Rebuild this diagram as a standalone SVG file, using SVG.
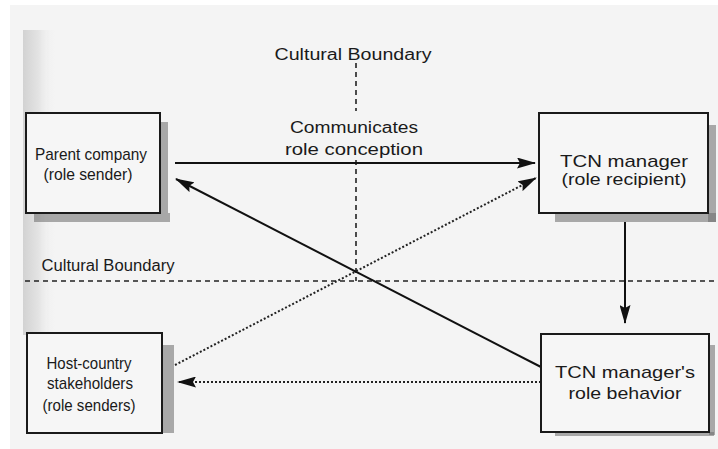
<svg xmlns="http://www.w3.org/2000/svg" width="718" height="449" viewBox="0 0 718 449">
  <style>
    text { font-family: "Liberation Sans", "DejaVu Sans", sans-serif; fill: #1a1a1a; text-anchor: middle; }
    .lbl { font-size: 16px; }
    .node { font-size: 17px; }
    .box { fill: #f6f6f6; stroke: #1a1a1a; stroke-width: 2; }
    .shadow { fill: #6a6a6a; opacity: 0.55; }
    .solid { stroke: #111; stroke-width: 2; fill: none; }
    .dotted { stroke: #222; stroke-width: 2; stroke-dasharray: 2 2; fill: none; }
    .boundary { stroke: #222; stroke-width: 1.6; stroke-dasharray: 5 4; fill: none; }
  </style>
  <defs>
    <linearGradient id="binding" x1="0" y1="0" x2="1" y2="0">
      <stop offset="0" stop-color="#d2d2d2"/>
      <stop offset="0.5" stop-color="#e4e4e4"/>
      <stop offset="1" stop-color="#f4f4f4" stop-opacity="0"/>
    </linearGradient>
    <linearGradient id="bindingFade" x1="0" y1="0" x2="0" y2="1">
      <stop offset="0" stop-color="#fff" stop-opacity="1"/>
      <stop offset="0.8" stop-color="#fff" stop-opacity="1"/>
      <stop offset="1" stop-color="#fff" stop-opacity="0"/>
    </linearGradient>
    <mask id="fadeMask">
      <rect x="0" y="0" width="718" height="449" fill="url(#bindingFade)"/>
    </mask>
    <marker id="arrow" markerWidth="19" markerHeight="11" refX="18" refY="5.5" orient="auto" markerUnits="userSpaceOnUse">
      <path d="M0,0 L19,5.5 L0,11 L3,5.5 Z" fill="#111"/>
    </marker>
  </defs>

  <!-- page -->
  <rect x="0" y="0" width="718" height="449" fill="#ffffff"/>
  <rect x="10" y="5" width="708" height="444" fill="#f4f4f4"/>
  <rect x="23" y="30" width="32" height="305" fill="url(#binding)" mask="url(#fadeMask)"/>

  <!-- boundaries -->
  <g id="boundaries">
    <text class="lbl" x="353" y="60" textLength="157" lengthAdjust="spacingAndGlyphs">Cultural Boundary</text>
    <path class="boundary" d="M356,63 V111 M356,160 V281"/>
    <text class="lbl" x="108" y="271" textLength="133" lengthAdjust="spacingAndGlyphs">Cultural Boundary</text>
    <path class="boundary" d="M25,281 H718"/>
  </g>

  <!-- connectors -->
  <g id="connectors">
    <path class="solid" d="M175,163 H535" marker-end="url(#arrow)"/>
    <text class="lbl" x="354" y="133" textLength="128" lengthAdjust="spacingAndGlyphs">Communicates</text>
    <text class="lbl" x="354" y="155" textLength="138" lengthAdjust="spacingAndGlyphs">role conception</text>
    <path class="solid" d="M541,367 L176,179" marker-end="url(#arrow)"/>
    <path class="dotted" d="M175,365 L536,178" marker-end="url(#arrow)"/>
    <path class="dotted" d="M541,382 H178" marker-end="url(#arrow)"/>
    <path class="solid" d="M625,222 V323" marker-end="url(#arrow)"/>
  </g>

  <!-- nodes -->
  <g id="parent-company">
    <rect class="shadow" x="34" y="213" width="136" height="9"/>
    <rect class="shadow" x="160" y="122" width="8" height="91" opacity="0.25"/>
    <rect class="box" x="26" y="113" width="134" height="100"/>
    <text class="node" x="91" y="160" textLength="112" lengthAdjust="spacingAndGlyphs">Parent company</text>
    <text class="node" x="88" y="180" textLength="89" lengthAdjust="spacingAndGlyphs">(role sender)</text>
  </g>

  <g id="tcn-manager">
    <rect class="shadow" x="555" y="213" width="161" height="9" opacity="0.35"/>
    <rect class="shadow" x="708" y="125" width="8" height="97" opacity="0.45"/>
    <rect class="box" x="539" y="113" width="169" height="100"/>
    <text class="node" x="624" y="167" textLength="128" lengthAdjust="spacingAndGlyphs">TCN manager</text>
    <text class="node" x="624" y="185" textLength="125" lengthAdjust="spacingAndGlyphs">(role recipient)</text>
  </g>

  <g id="host-country">
    <rect class="shadow" x="162" y="345" width="12" height="88" opacity="0.2"/>
    <rect class="box" x="27" y="333" width="135" height="100"/>
    <text class="node" x="89" y="369" textLength="85" lengthAdjust="spacingAndGlyphs">Host-country</text>
    <text class="node" x="90" y="389" textLength="86" lengthAdjust="spacingAndGlyphs">stakeholders</text>
    <text class="node" x="89" y="411" textLength="93" lengthAdjust="spacingAndGlyphs">(role senders)</text>
  </g>

  <g id="tcn-behavior">
    <rect class="shadow" x="555" y="432" width="159" height="4" opacity="0.35"/>
    <rect class="shadow" x="709" y="345" width="6" height="90" opacity="0.45"/>
    <rect class="box" x="541" y="334" width="168" height="98"/>
    <text class="node" x="625" y="378" textLength="140" lengthAdjust="spacingAndGlyphs">TCN manager's</text>
    <text class="node" x="625" y="399" textLength="113" lengthAdjust="spacingAndGlyphs">role behavior</text>
  </g>
</svg>
